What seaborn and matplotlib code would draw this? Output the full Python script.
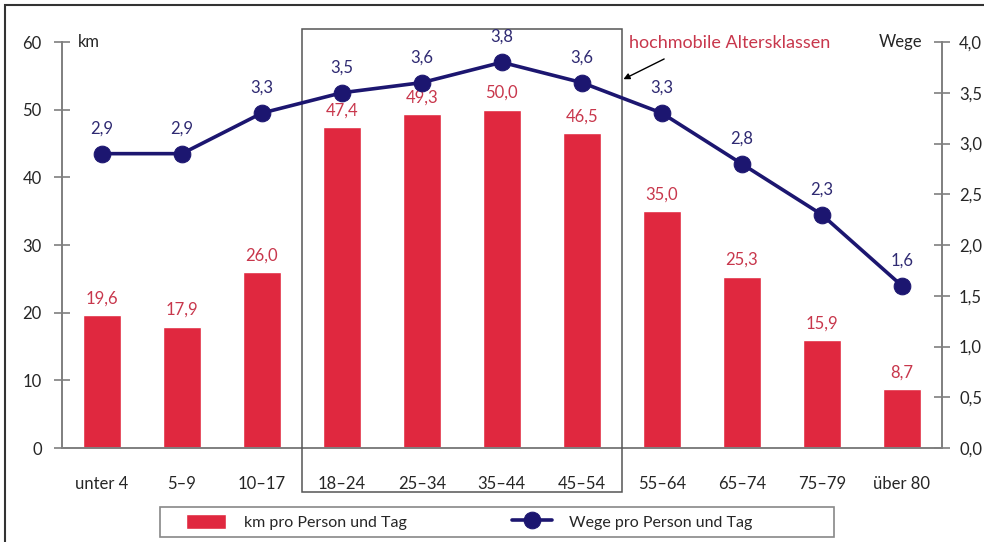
import numpy as np
import matplotlib
matplotlib.use("Agg")
import matplotlib.pyplot as plt
from matplotlib.patches import Rectangle
import seaborn as sns

# data
ages = ["unter 4", "5–9", "10–17", "18–24", "25–34", "35–44", "45–54",
        "55–64", "65–74", "75–79", "über 80"]
km_per_day = [19.6, 17.9, 26.0, 47.4, 49.3, 50.0, 46.5, 35.0, 25.3, 15.9, 8.7]
trips_per_day = [2.9, 2.9, 3.3, 3.5, 3.6, 3.8, 3.6, 3.3, 2.8, 2.3, 1.6]
left_ticks = [0, 10, 20, 30, 40, 50, 60]
right_ticks = [0.0, 0.5, 1.0, 1.5, 2.0, 2.5, 3.0, 3.5, 4.0]

bar_col = "#e0283f"
bar_txt = "#c8374c"
line_col = "#1c1670"
line_txt = "#2f2a72"
spine_col = "#7f7f7f"

sns.set_style("white")
plt.rcParams["font.family"] = ["Lato", "DejaVu Sans"]
fs = 12

fig = plt.figure(figsize=(9.84, 5.42), dpi=100)
ax = fig.add_axes([0.063, 0.1734, 0.894, 0.7491])
x = np.arange(len(ages))

sns.barplot(x=x, y=km_per_day, ax=ax, color=bar_col, width=0.48,
            saturation=1, native_scale=True, label="km pro Person und Tag")
ax.set_xlim(-0.5, 10.5)
ax.set_ylim(0, 60)

ax2 = ax.twinx()
sns.lineplot(x=x, y=trips_per_day, ax=ax2, color=line_col, lw=2.6,
             marker="o", markersize=12, markeredgecolor=line_col,
             label="Wege pro Person und Tag", legend=False)
ax2.set_ylim(0, 4.0)
ax2.set_xlim(-0.5, 10.5)

# value labels
for i, v in enumerate(km_per_day):
    ax.text(i, v + 1.3, f"{v:.1f}".replace(".", ","), ha="center",
            va="bottom", color=bar_txt, fontsize=fs)
for i, v in enumerate(trips_per_day):
    ax2.text(i, v + 0.17, f"{v:.1f}".replace(".", ","), ha="center",
             va="bottom", color=line_txt, fontsize=fs)

# axes styling
for a in (ax, ax2):
    a.spines["top"].set_visible(False)
    for s in a.spines.values():
        s.set_color(spine_col)
        s.set_linewidth(1.4)
ax.spines["right"].set_visible(False)
ax2.spines["left"].set_visible(False)
ax2.spines["bottom"].set_visible(False)

ax.set_yticks(left_ticks)
ax.set_yticklabels([str(t) for t in left_ticks])
ax2.set_yticks(right_ticks)
ax2.set_yticklabels([f"{t:.1f}".replace(".", ",") for t in right_ticks])
ax.tick_params(axis="y", direction="inout", length=11, width=1.2,
               color=spine_col, labelsize=fs, pad=9)
ax2.tick_params(axis="y", direction="inout", length=11, width=1.2,
                color=spine_col, labelsize=fs, pad=7)

ax.set_xticks(x)
ax.set_xticklabels(ages)
ax.tick_params(axis="x", length=0, labelsize=fs, pad=20)
ax.set_xticks(np.arange(0.5, 10, 1), minor=True)
ax.tick_params(axis="x", which="minor", direction="inout", length=11,
               width=1.2, color=spine_col)
ax.set_xlabel("")
ax.set_ylabel("")

# unit labels
ax.text(0.018, 60, "km", ha="left", va="center", fontsize=fs,
        transform=ax.get_yaxis_transform())
ax2.text(0.978, 4.0, "Wege", ha="right", va="center", fontsize=fs,
         transform=ax2.get_yaxis_transform())

# box around the high-mobility classes
ax.add_patch(Rectangle((2.5, -6.5), 4.0, 68.4, fill=False, ec="#555555",
                       lw=1.1, clip_on=False, zorder=5))
ax.annotate("hochmobile Altersklassen", xy=(6.52, 54.5),
            xytext=(7.85, 59.8), ha="center", va="center", color=bar_txt,
            fontsize=13,
            arrowprops=dict(arrowstyle="-|>", color="black", lw=1,
                            shrinkA=7, shrinkB=0, mutation_scale=9,
                            relpos=(0.25, 0.0)))

# legend below, frame drawn separately
h1, l1 = ax.get_legend_handles_labels()
h2, l2 = ax2.get_legend_handles_labels()
leg = fig.legend(h1 + h2, l1 + l2, loc="center left", ncol=2,
                 bbox_to_anchor=(186 / 984, 0.037), frameon=False,
                 fontsize=11.5, columnspacing=6.6, handlelength=2.5,
                 handleheight=1.1, handletextpad=1.1, borderpad=0,
                 borderaxespad=0)
if ax.get_legend() is not None:
    ax.get_legend().remove()
fig.add_artist(Rectangle((160 / 984, 1 - 537 / 542), 674 / 984, 30 / 542,
                         fill=False, ec="#888888", lw=1.2,
                         transform=fig.transFigure))

# outer frame of the picture
fig.add_artist(Rectangle((0.005, -0.02), 1.2, 1.01, fill=False,
                         ec="#333333", lw=1.5, transform=fig.transFigure))

fig.savefig("out.png", dpi=100)
